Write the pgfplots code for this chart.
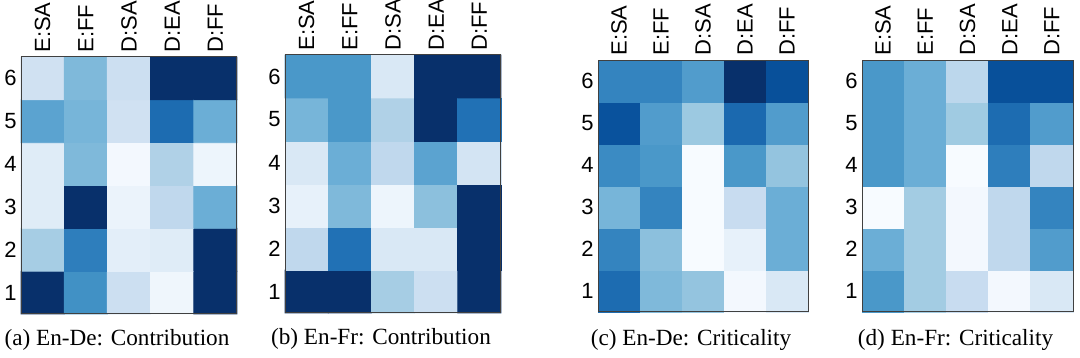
\documentclass[border=0pt]{standalone}
\usepackage{fontspec}
\setmainfont{Liberation Serif}
\setsansfont{Liberation Sans}
\usepackage{pgfplots}
\pgfplotsset{compat=1.18}
\usepackage{pgfplotstable}

% columns: 0 E:SA, 1 E:FF, 2 D:SA, 3 D:EA, 4 D:FF ; rows 1..6 (layers)
\pgfplotstableread{
x y c
0 1 1.00
1 1 0.63
2 1 0.22
3 1 0.04
4 1 1.00
0 2 0.35
1 2 0.70
2 2 0.10
3 2 0.12
4 2 1.00
0 3 0.12
1 3 1.00
2 3 0.06
3 3 0.27
4 3 0.50
0 4 0.12
1 4 0.45
2 4 0.02
3 4 0.32
4 4 0.05
0 5 0.55
1 5 0.47
2 5 0.20
3 5 0.77
4 5 0.50
0 6 0.20
1 6 0.45
2 6 0.22
3 6 1.00
4 6 1.00
}\enDeContrib

\pgfplotstableread{
x y c
0 1 1.00
1 1 1.00
2 1 0.35
3 1 0.22
4 1 1.00
0 2 0.27
1 2 0.75
2 2 0.15
3 2 0.15
4 2 1.00
0 3 0.08
1 3 0.45
2 3 0.05
3 3 0.42
4 3 1.00
0 4 0.15
1 4 0.50
2 4 0.27
3 4 0.55
4 4 0.18
0 5 0.47
1 5 0.60
2 5 0.32
3 5 1.00
4 5 0.75
0 6 0.60
1 6 0.60
2 6 0.15
3 6 1.00
4 6 1.00
}\enFrContrib

\pgfplotstableread{
x y c
0 1 0.77
1 1 0.45
2 1 0.40
3 1 0.02
4 1 0.15
0 2 0.68
1 2 0.42
2 2 0.00
3 2 0.08
4 2 0.50
0 3 0.47
1 3 0.68
2 3 0.00
3 3 0.24
4 3 0.50
0 4 0.65
1 4 0.60
2 4 0.00
3 4 0.60
4 4 0.40
0 5 0.87
1 5 0.58
2 5 0.38
3 5 0.78
4 5 0.58
0 6 0.68
1 6 0.68
2 6 0.58
3 6 1.00
4 6 0.88
}\enDeCrit

\pgfplotstableread{
x y c
0 1 0.60
1 1 0.36
2 1 0.24
3 1 0.02
4 1 0.15
0 2 0.50
1 2 0.36
2 2 0.02
3 2 0.27
4 2 0.58
0 3 0.00
1 3 0.36
2 3 0.02
3 3 0.27
4 3 0.68
0 4 0.60
1 4 0.50
2 4 0.00
3 4 0.70
4 4 0.27
0 5 0.60
1 5 0.50
2 5 0.37
3 5 0.77
4 5 0.58
0 6 0.60
1 6 0.50
2 6 0.28
3 6 0.88
4 6 0.88
}\enFrCrit

\pgfplotsset{
  colormap={blues}{rgb255=(247,251,255) rgb255=(222,235,247) rgb255=(198,219,239)
    rgb255=(158,202,225) rgb255=(107,174,214) rgb255=(66,146,198)
    rgb255=(33,113,181) rgb255=(8,81,156) rgb255=(8,48,107)},
  heat/.style={
    scale only axis, anchor=north west, clip=false,
    enlargelimits=false, xmin=-0.5, xmax=4.5, ymin=0.5, ymax=6.5,
    xtick={0,...,4}, xticklabels={E:SA,E:FF,D:SA,D:EA,D:FF},
    ytick={1,...,6}, xticklabel pos=right,
    tick label style={font=\sffamily\fontsize{11}{11}\selectfont},
    /pgf/number format/assume math mode=true,
    xticklabel style={rotate=90, anchor=west, inner sep=2pt},
    yticklabel style={inner sep=2pt},
    major tick length=0pt,
    axis line style={black!75, line width=0.5pt},
    colormap name=blues, point meta min=0, point meta max=1,
    axis on top,
  },
}
\tikzset{subcap/.style={anchor=base, font=\fontsize{11.6}{12}\selectfont}}

\begin{document}
\begin{tikzpicture}
\path[use as bounding box] (0pt,0pt) rectangle (540pt,-179pt);

\begin{axis}[heat, at={(10.5pt,-28.5pt)}, width=108pt, height=128.5pt]
\addplot[matrix plot*, mesh/cols=5, point meta=explicit] table[meta=c] {\enDeContrib};
\node[subcap] at (rel axis cs:0.5,0) [xshift=-6pt, yshift=-16pt] {(a) En-De: Contribution};
\end{axis}

\begin{axis}[heat, at={(142.5pt,-27.5pt)}, width=108pt, height=129pt]
\addplot[matrix plot*, mesh/cols=5, point meta=explicit] table[meta=c] {\enFrContrib};
\node[subcap] at (rel axis cs:0.5,0) [xshift=-6pt, yshift=-16pt] {(b) En-Fr: Contribution};
\end{axis}

\begin{axis}[heat, at={(299pt,-30pt)}, width=105pt, height=126pt]
\addplot[matrix plot*, mesh/cols=5, point meta=explicit] table[meta=c] {\enDeCrit};
\node[subcap] at (rel axis cs:0.5,0) [xshift=-6pt, yshift=-17pt] {(c) En-De: Criticality};
\end{axis}

\begin{axis}[heat, at={(431pt,-30pt)}, width=105.5pt, height=126pt]
\addplot[matrix plot*, mesh/cols=5, point meta=explicit] table[meta=c] {\enFrCrit};
\node[subcap] at (rel axis cs:0.5,0) [xshift=-6pt, yshift=-17pt] {(d) En-Fr: Criticality};
\end{axis}
\end{tikzpicture}
\end{document}
